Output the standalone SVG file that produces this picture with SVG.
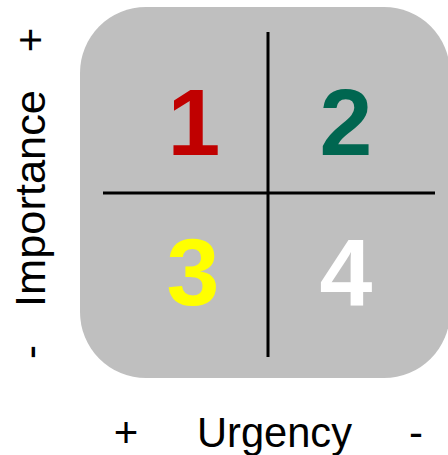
<svg xmlns="http://www.w3.org/2000/svg" width="448" height="455" viewBox="0 0 448 455">
<style>
.lbl{font-family:"Liberation Sans",Arial,sans-serif;font-size:42px;fill:#000;}
.num{font-family:"Liberation Sans",Arial,sans-serif;font-size:95px;font-weight:bold;text-anchor:middle;}
.ln{stroke:#000;stroke-width:3;}
</style>
<rect width="448" height="455" fill="#fff"/>
<g id="matrix">
<rect x="80" y="7" width="370" height="371" rx="66" ry="66" fill="#BFBFBF"/>
</g>
<g id="connectors">
<line class="ln" x1="268" y1="32" x2="268" y2="357"/>
<line class="ln" x1="103" y1="193" x2="435" y2="193"/>
</g>
<g id="q1"><text class="num" x="194" y="155" fill="#C00000">1</text></g>
<g id="q2"><text class="num" x="346" y="155" fill="#006650">2</text></g>
<g id="q3"><text class="num" x="193" y="305" fill="#FFFF00">3</text></g>
<g id="q4"><text class="num" x="346" y="305" fill="#FFFFFF">4</text></g>
<g id="importance-axis">
<text class="lbl" transform="translate(45,198.5) rotate(-90)" text-anchor="middle" textLength="217" lengthAdjust="spacingAndGlyphs">Importance</text>
<text class="lbl" transform="translate(45,40) rotate(-90)" text-anchor="middle">+</text>
<text class="lbl" transform="translate(45,352) rotate(-90)" text-anchor="middle">-</text>
</g>
<g id="urgency-axis">
<text class="lbl" x="126" y="447" text-anchor="middle">+</text>
<text class="lbl" x="197" y="447" textLength="155" lengthAdjust="spacingAndGlyphs">Urgency</text>
<text class="lbl" x="416" y="447" text-anchor="middle">-</text>
</g>
</svg>
